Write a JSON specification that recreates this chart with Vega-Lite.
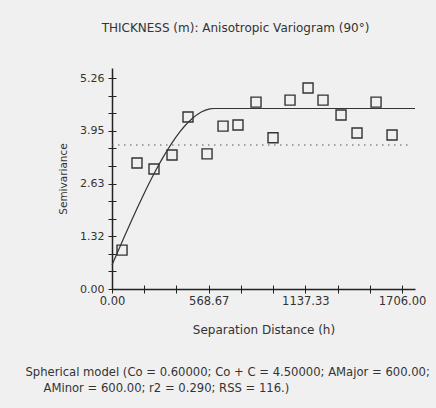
{
  "$schema": "https://vega.github.io/schema/vega-lite/v6.json",
  "width": 303,
  "height": 221,
  "autosize": {"type": "none"},
  "padding": {"left": 112, "top": 68, "right": 21, "bottom": 119},
  "background": "#f0f0f0",
  "config": {
    "view": {"stroke": null},
    "font": "DejaVu Sans",
    "axis": {
      "grid": false,
      "domainColor": "#222222",
      "tickColor": "#222222",
      "labelColor": "#333333",
      "titleColor": "#333333",
      "labelFont": "DejaVu Sans",
      "titleFont": "DejaVu Sans",
      "labelFontSize": 11,
      "titleFontSize": 11.5,
      "titleFontWeight": "normal"
    }
  },
  "title": {
    "text": "THICKNESS (m): Anisotropic Variogram (90°)",
    "font": "DejaVu Sans",
    "fontSize": 12,
    "fontWeight": "normal",
    "color": "#333333",
    "anchor": "middle",
    "dx": -28,
    "offset": 33
  },
  "datasets": {
    "pts": [
      {"h": 59, "g": 0.97}, {"h": 147, "g": 3.14}, {"h": 247, "g": 2.99}, {"h": 353, "g": 3.34},
      {"h": 447, "g": 4.29}, {"h": 559, "g": 3.37}, {"h": 653, "g": 4.06}, {"h": 741, "g": 4.09},
      {"h": 847, "g": 4.66}, {"h": 947, "g": 3.77}, {"h": 1047, "g": 4.71}, {"h": 1153, "g": 5.01},
      {"h": 1241, "g": 4.71}, {"h": 1347, "g": 4.34}, {"h": 1441, "g": 3.89}, {"h": 1553, "g": 4.66},
      {"h": 1647, "g": 3.84}
    ],
    "model": [
      {"h": 0, "g": 0.6}, {"h": 25, "g": 0.844}, {"h": 50, "g": 1.086}, {"h": 75, "g": 1.327},
      {"h": 100, "g": 1.566}, {"h": 125, "g": 1.801}, {"h": 150, "g": 2.032}, {"h": 175, "g": 2.258},
      {"h": 200, "g": 2.478}, {"h": 225, "g": 2.691}, {"h": 250, "g": 2.896}, {"h": 275, "g": 3.094},
      {"h": 300, "g": 3.281}, {"h": 325, "g": 3.459}, {"h": 350, "g": 3.625}, {"h": 375, "g": 3.78},
      {"h": 400, "g": 3.922}, {"h": 425, "g": 4.051}, {"h": 450, "g": 4.165}, {"h": 475, "g": 4.264},
      {"h": 500, "g": 4.347}, {"h": 525, "g": 4.412}, {"h": 550, "g": 4.46}, {"h": 575, "g": 4.49},
      {"h": 600, "g": 4.5}, {"h": 1782, "g": 4.5}
    ],
    "sill": [{"h0": 0, "h1": 1760, "v": 3.59}]
  },
  "layer": [
    {
      "data": {"name": "pts"},
      "mark": {"type": "point", "shape": "square", "filled": false, "size": 100, "stroke": "#333333", "strokeWidth": 1.4, "opacity": 1},
      "encoding": {
        "x": {
          "field": "h", "type": "quantitative",
          "scale": {"domain": [0, 1782], "nice": false, "zero": false},
          "axis": {
            "orient": "bottom",
            "values": [0, 189.5556, 379.1111, 568.6667, 758.2222, 947.7778, 1137.3333, 1326.8889, 1516.4444, 1706],
            "labelExpr": "round(datum.value / 189.5556) % 3 == 0 ? format(datum.value, '.2f') : ''",
            "tickSize": 4,
            "labelPadding": 2,
            "labelFontSize": 11.5,
            "domainWidth": 1.5,
            "labelFlush": false,
            "labelOverlap": false,
            "title": "Separation Distance (h)",
            "titleFontSize": 12,
            "titlePadding": 18
          }
        },
        "y": {
          "field": "g", "type": "quantitative",
          "scale": {"domain": [0, 5.51], "nice": false, "zero": false},
          "axis": {
            "orient": "left",
            "values": [0, 0.43833, 0.87667, 1.315, 1.75333, 2.19167, 2.63, 3.06833, 3.50667, 3.945, 4.38333, 4.82167, 5.26],
            "labelExpr": "round(datum.value / 0.438333) % 3 == 0 ? format(datum.value + 0.0001, '.2f') : ''",
            "tickSize": 4,
            "labelPadding": 4,
            "domainWidth": 1.5,
            "labelFlush": false,
            "labelOverlap": false,
            "title": "Semivariance",
            "titleFontSize": 10.5,
            "titlePadding": 11
          }
        }
      }
    },
    {
      "data": {"name": "model"},
      "mark": {"type": "line", "color": "#333333", "strokeWidth": 1.2},
      "encoding": {
        "x": {
          "field": "h", "type": "quantitative",
          "axis": {
            "orient": "bottom",
            "values": [0, 189.5556, 379.1111, 568.6667, 758.2222, 947.7778, 1137.3333, 1326.8889, 1516.4444, 1706],
            "tickSize": -4,
            "labels": false,
            "domain": false,
            "title": "Spherical model (Co = 0.60000; Co + C = 4.50000; AMajor = 600.00;",
            "titleFontSize": 11.6,
            "titleAlign": "left",
            "titleAnchor": null,
            "titleBaseline": "top",
            "titleX": -87,
            "titleY": 77
          }
        },
        "y": {
          "field": "g", "type": "quantitative",
          "axis": {
            "orient": "left",
            "values": [0, 0.43833, 0.87667, 1.315, 1.75333, 2.19167, 2.63, 3.06833, 3.50667, 3.945, 4.38333, 4.82167, 5.26],
            "tickSize": -4,
            "labels": false,
            "domain": false,
            "title": "AMinor = 600.00; r2 = 0.290; RSS = 116.)",
            "titleFontSize": 11.6,
            "titleAngle": 0,
            "titleAlign": "left",
            "titleAnchor": null,
            "titleBaseline": "top",
            "titleX": -69,
            "titleY": 314
          }
        }
      }
    },
    {
      "data": {"name": "sill"},
      "mark": {"type": "rule", "color": "#555555", "strokeWidth": 1, "strokeDash": [1.5, 4.5]},
      "encoding": {
        "x": {"field": "h0", "type": "quantitative", "axis": null},
        "x2": {"field": "h1"},
        "y": {"field": "v", "type": "quantitative", "axis": null}
      }
    }
  ],
  "resolve": {"axis": {"x": "independent", "y": "independent"}}
}
